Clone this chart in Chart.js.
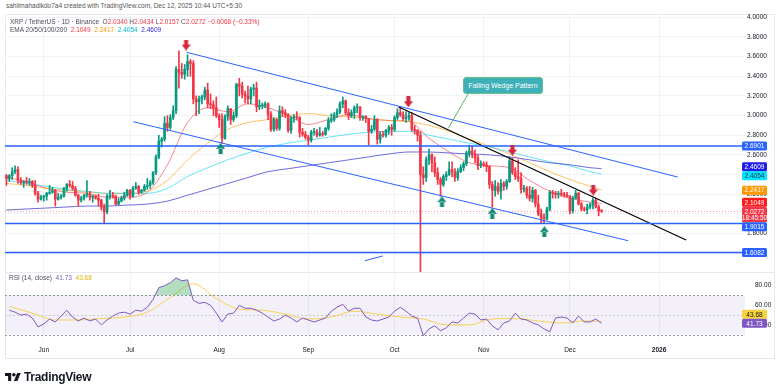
<!DOCTYPE html>
<html>
<head>
<meta charset="utf-8">
<script src="https://cdn.jsdelivr.net/npm/chart.js@4.4.1/dist/chart.umd.min.js"></script>
<style>
  body { margin: 0; background: #fff; font-family: 'Liberation Sans', Arial, sans-serif; }
  #wrap { position: relative; width: 780px; height: 388px; overflow: hidden; background: #fff; }
  #frame { position: absolute; left: 5px; top: 14px; width: 768px; height: 343px; border: 1px solid #e6e8ee; }
  #priceBox { position: absolute; left: 0; top: 13px; width: 780px; height: 259px; }
  #rsiBox { position: absolute; left: 0; top: 272px; width: 780px; height: 86px; }
  #sep { position: absolute; left: 5px; top: 272px; width: 769px; height: 1px; background: #e6e8ee; }
  .txt { position: absolute; white-space: nowrap; font-size: 6.5px; line-height: 8px; color: #4a4e59; }
  .r { color: #f23645; }
  #callout { position: absolute; left: 463px; top: 77px; width: 80px; height: 17px; background: #3fb0b8;
             border: 1px solid #66c28a; border-radius: 3px; box-sizing: border-box; color: #fff;
             font-size: 7px; line-height: 15px; text-align: center; }
  #logo { position: absolute; left: 5px; top: 370px; display: flex; align-items: center; gap: 3px;
          font-size: 12px; font-weight: bold; color: #131722; letter-spacing: -0.3px; }
</style>
</head>
<body>
<div id="wrap">
  <div id="frame"></div>
  <div id="priceBox"><canvas id="priceChart" width="780" height="259"></canvas></div>
  <div id="sep"></div>
  <div id="rsiBox"><canvas id="rsiChart" width="780" height="86"></canvas></div>

  <div class="txt" style="left:6px;top:2px;color:#555;">sahilmahadikdo7a4 created with TradingView.com, Dec 12, 2025 10:44 UTC+5:30</div>
  <div class="txt" style="left:10px;top:18px;">XRP / TetherUS · 1D · Binance&nbsp; O<span class="r">2.0340</span> H<span class="r">2.0434</span> L<span class="r">2.0157</span> C<span class="r">2.0272</span> <span class="r">−0.0068 (−0.33%)</span></div>
  <div class="txt" style="left:10px;top:26px;">EMA 20/50/100/200&nbsp; <span style="color:#f23645">2.1049</span>&nbsp; <span style="color:#ff9800">2.2417</span>&nbsp; <span style="color:#00bcd4">2.4054</span>&nbsp; <span style="color:#2a2ad8">2.4609</span></div>
  <div class="txt" style="left:9px;top:274px;">RSI (14, close)&nbsp; <span style="color:#7e57c2">41.73</span>&nbsp; <span style="color:#e0b400">43.68</span></div>
  <div id="callout">Falling Wedge Pattern</div>
  <div id="logo">
    <svg width="16" height="12" viewBox="0 0 36 26"><path d="M14 22H7V11H0V4h14v18zM28 22h-8l7.5-18h8L28 22z" fill="#131722"/><circle cx="20" cy="8" r="4" fill="#131722"/></svg>
    <span>TradingView</span>
  </div>
</div>

<script>
// XRP / TetherUS daily, 19 May 2025 -> 12 Dec 2025
// day numbers count from 1 Jun 2025 (= 0)

const firstDay = -13; // 19 May

// [open, high, low, close]
const mayCandles = [
  [2.39, 2.40, 2.29, 2.36], [2.36, 2.40, 2.33, 2.39], [2.39, 2.47, 2.35, 2.43], [2.43, 2.49, 2.41, 2.45],
  [2.45, 2.48, 2.31, 2.34], [2.34, 2.37, 2.30, 2.32], [2.32, 2.34, 2.27, 2.33], [2.33, 2.37, 2.30, 2.32],
  [2.32, 2.36, 2.29, 2.33], [2.33, 2.34, 2.27, 2.29], [2.29, 2.34, 2.19, 2.21], [2.21, 2.23, 2.12, 2.15],
  [2.15, 2.19, 2.14, 2.17]
];
const junCandles = [
  [2.17, 2.19, 2.13, 2.18], [2.18, 2.22, 2.14, 2.21], [2.21, 2.29, 2.20, 2.22], [2.22, 2.27, 2.21, 2.24],
  [2.24, 2.25, 2.08, 2.15], [2.15, 2.21, 2.14, 2.17], [2.17, 2.20, 2.15, 2.18], [2.18, 2.27, 2.17, 2.26],
  [2.26, 2.31, 2.23, 2.30], [2.30, 2.34, 2.27, 2.29], [2.29, 2.33, 2.24, 2.26], [2.26, 2.28, 2.18, 2.19],
  [2.19, 2.20, 2.08, 2.14], [2.14, 2.18, 2.12, 2.16], [2.16, 2.20, 2.14, 2.19], [2.19, 2.34, 2.17, 2.20],
  [2.20, 2.23, 2.14, 2.17], [2.17, 2.19, 2.12, 2.18], [2.18, 2.19, 2.15, 2.16], [2.16, 2.20, 2.08, 2.14],
  [2.14, 2.15, 2.04, 2.07], [2.07, 2.10, 1.91, 2.02], [2.02, 2.20, 2.00, 2.18], [2.18, 2.24, 2.15, 2.19],
  [2.19, 2.22, 2.16, 2.18], [2.18, 2.19, 2.09, 2.10], [2.10, 2.16, 2.09, 2.13], [2.13, 2.18, 2.12, 2.16],
  [2.16, 2.22, 2.14, 2.19], [2.19, 2.25, 2.18, 2.24]
];
const julCandles = [
  [2.24, 2.25, 2.15, 2.18], [2.18, 2.28, 2.17, 2.26], [2.26, 2.32, 2.25, 2.28], [2.28, 2.29, 2.20, 2.22],
  [2.22, 2.25, 2.21, 2.24], [2.24, 2.30, 2.23, 2.28], [2.28, 2.36, 2.25, 2.29], [2.29, 2.34, 2.26, 2.32],
  [2.32, 2.43, 2.30, 2.42], [2.42, 2.60, 2.40, 2.58], [2.58, 2.80, 2.56, 2.74], [2.74, 2.78, 2.68, 2.76],
  [2.76, 2.99, 2.74, 2.92], [2.92, 3.00, 2.84, 2.88], [2.88, 3.01, 2.86, 2.98], [2.98, 3.10, 2.96, 3.05],
  [3.05, 3.50, 3.02, 3.47], [3.47, 3.66, 3.28, 3.44], [3.44, 3.53, 3.38, 3.42], [3.42, 3.52, 3.37, 3.47],
  [3.47, 3.62, 3.40, 3.55], [3.55, 3.57, 3.40, 3.53], [3.53, 3.56, 3.12, 3.17], [3.17, 3.20, 3.00, 3.14],
  [3.14, 3.20, 3.02, 3.17], [3.17, 3.21, 3.12, 3.19], [3.19, 3.29, 3.16, 3.26], [3.26, 3.33, 3.08, 3.12],
  [3.12, 3.22, 3.07, 3.11], [3.11, 3.15, 3.00, 3.08], [3.08, 3.19, 2.98, 3.00]
];
const augCandles = [
  [3.00, 3.02, 2.88, 2.96], [2.96, 3.02, 2.72, 2.77], [2.77, 3.01, 2.76, 2.99], [2.99, 3.10, 2.95, 3.07],
  [3.07, 3.07, 2.91, 2.96], [2.96, 3.04, 2.94, 3.00], [3.00, 3.33, 2.98, 3.32], [3.32, 3.38, 3.20, 3.30],
  [3.30, 3.34, 3.18, 3.22], [3.22, 3.25, 3.13, 3.20], [3.20, 3.30, 3.12, 3.17], [3.17, 3.29, 3.12, 3.27],
  [3.27, 3.32, 3.20, 3.28], [3.28, 3.34, 3.04, 3.09], [3.09, 3.16, 3.06, 3.10], [3.10, 3.13, 3.07, 3.10],
  [3.10, 3.14, 3.08, 3.12], [3.12, 3.13, 2.96, 3.01], [3.01, 3.04, 2.84, 2.86], [2.86, 2.98, 2.84, 2.96],
  [2.96, 2.97, 2.85, 2.87], [2.87, 3.10, 2.85, 3.05], [3.05, 3.09, 2.99, 3.03], [3.03, 3.06, 2.98, 3.01],
  [3.01, 3.02, 2.83, 2.85], [2.85, 2.99, 2.82, 2.97], [2.97, 3.01, 2.93, 2.99], [2.99, 3.04, 2.96, 2.98],
  [2.98, 2.99, 2.78, 2.83], [2.83, 2.87, 2.79, 2.81], [2.81, 2.84, 2.76, 2.78]
];
const sepCandles = [
  [2.78, 2.80, 2.70, 2.75], [2.75, 2.85, 2.73, 2.83], [2.83, 2.87, 2.80, 2.84], [2.84, 2.86, 2.78, 2.80],
  [2.80, 2.88, 2.79, 2.82], [2.82, 2.84, 2.79, 2.81], [2.81, 2.88, 2.80, 2.87], [2.87, 2.98, 2.85, 2.95],
  [2.95, 3.02, 2.93, 2.96], [2.96, 3.03, 2.94, 3.01], [3.01, 3.07, 2.98, 3.04], [3.04, 3.14, 3.02, 3.12],
  [3.12, 3.19, 3.08, 3.15], [3.15, 3.16, 3.01, 3.03], [3.03, 3.07, 2.96, 3.00], [3.00, 3.06, 2.98, 3.03],
  [3.03, 3.10, 2.97, 3.08], [3.08, 3.12, 3.03, 3.09], [3.09, 3.09, 2.95, 2.98], [2.98, 3.00, 2.95, 2.99],
  [2.99, 3.00, 2.93, 2.97], [2.97, 2.97, 2.70, 2.84], [2.84, 2.90, 2.82, 2.86], [2.86, 3.00, 2.85, 2.96],
  [2.96, 2.97, 2.71, 2.76], [2.76, 2.84, 2.72, 2.81], [2.81, 2.84, 2.78, 2.80], [2.80, 2.86, 2.78, 2.85],
  [2.85, 2.90, 2.81, 2.88], [2.88, 2.91, 2.80, 2.86]
];
const octCandles = [
  [2.86, 3.00, 2.84, 2.98], [2.98, 3.07, 2.96, 3.03], [3.03, 3.09, 2.99, 3.01], [3.01, 3.04, 2.95, 2.97],
  [2.97, 3.04, 2.93, 2.98], [2.98, 3.03, 2.95, 3.00], [3.00, 3.03, 2.84, 2.86], [2.86, 2.90, 2.81, 2.85],
  [2.85, 2.86, 2.74, 2.80], [2.80, 2.84, 1.25, 2.40], [2.40, 2.48, 2.30, 2.37], [2.37, 2.58, 2.33, 2.55],
  [2.55, 2.66, 2.50, 2.60], [2.60, 2.61, 2.43, 2.52], [2.52, 2.58, 2.38, 2.42], [2.42, 2.47, 2.30, 2.35],
  [2.35, 2.37, 2.18, 2.30], [2.30, 2.40, 2.28, 2.38], [2.38, 2.43, 2.34, 2.40], [2.40, 2.53, 2.39, 2.45],
  [2.45, 2.53, 2.38, 2.43], [2.43, 2.46, 2.33, 2.37], [2.37, 2.46, 2.34, 2.43], [2.43, 2.50, 2.42, 2.47],
  [2.47, 2.53, 2.44, 2.51], [2.51, 2.64, 2.49, 2.62], [2.62, 2.70, 2.58, 2.64], [2.64, 2.69, 2.57, 2.61],
  [2.61, 2.65, 2.52, 2.57], [2.57, 2.60, 2.45, 2.49], [2.49, 2.54, 2.47, 2.51]
];
const novCandles = [
  [2.51, 2.53, 2.48, 2.50], [2.50, 2.53, 2.43, 2.48], [2.48, 2.49, 2.26, 2.30], [2.30, 2.33, 2.07, 2.24],
  [2.24, 2.34, 2.18, 2.28], [2.28, 2.32, 2.20, 2.23], [2.23, 2.35, 2.15, 2.31], [2.31, 2.33, 2.24, 2.28],
  [2.28, 2.35, 2.25, 2.33], [2.33, 2.58, 2.32, 2.54], [2.54, 2.57, 2.40, 2.42], [2.42, 2.47, 2.35, 2.38],
  [2.38, 2.55, 2.33, 2.36], [2.36, 2.42, 2.21, 2.25], [2.25, 2.29, 2.22, 2.26], [2.26, 2.28, 2.16, 2.19],
  [2.19, 2.28, 2.13, 2.16], [2.16, 2.27, 2.12, 2.24], [2.24, 2.25, 2.07, 2.10], [2.10, 2.19, 1.98, 2.00],
  [2.00, 2.05, 1.90, 1.96], [1.96, 2.00, 1.91, 1.95], [1.95, 2.07, 1.94, 2.05], [2.05, 2.24, 2.03, 2.22],
  [2.22, 2.24, 2.16, 2.21], [2.21, 2.23, 2.16, 2.20], [2.20, 2.23, 2.16, 2.21], [2.21, 2.25, 2.18, 2.20],
  [2.20, 2.22, 2.17, 2.19], [2.19, 2.22, 2.17, 2.18]
];
const decCandles = [
  [2.18, 2.19, 2.00, 2.03], [2.03, 2.18, 2.01, 2.16], [2.16, 2.24, 2.15, 2.21], [2.21, 2.22, 2.09, 2.10],
  [2.10, 2.12, 2.03, 2.05], [2.05, 2.07, 2.03, 2.04], [2.04, 2.10, 2.00, 2.07], [2.07, 2.11, 2.05, 2.09],
  [2.09, 2.16, 2.05, 2.14], [2.14, 2.16, 2.06, 2.07], [2.07, 2.09, 1.98, 2.03], [2.0340, 2.0434, 2.0157, 2.0272]
];

// EMA readings (weekly samples)
const emaDays = [-13, -6, 1, 8, 15, 22, 29, 36, 43, 50, 57, 64, 71, 78, 85, 92, 99, 106, 113, 120, 127, 134, 141, 148, 155, 162, 169, 176, 183, 190, 194];
const ema20  = [2.37, 2.33, 2.26, 2.22, 2.21, 2.17, 2.17, 2.22, 2.50, 2.93, 3.08, 3.04, 3.12, 3.08, 3.00, 2.91, 2.96, 3.01, 2.97, 2.95, 2.94, 2.77, 2.63, 2.52, 2.49, 2.47, 2.34, 2.23, 2.16, 2.12, 2.1049];
const ema50  = [2.31, 2.29, 2.26, 2.24, 2.22, 2.21, 2.21, 2.23, 2.34, 2.55, 2.72, 2.86, 2.93, 2.96, 3.00, 3.02, 3.00, 2.99, 2.97, 2.95, 2.94, 2.90, 2.84, 2.76, 2.69, 2.61, 2.52, 2.43, 2.35, 2.28, 2.2417];
const ema100 = [2.34, 2.31, 2.28, 2.25, 2.23, 2.21, 2.21, 2.21, 2.26, 2.38, 2.47, 2.55, 2.62, 2.68, 2.72, 2.75, 2.78, 2.81, 2.83, 2.84, 2.84, 2.80, 2.76, 2.72, 2.68, 2.63, 2.58, 2.53, 2.49, 2.43, 2.4054];
const ema200 = [2.04, 2.05, 2.06, 2.07, 2.08, 2.08, 2.09, 2.10, 2.13, 2.19, 2.25, 2.31, 2.37, 2.43, 2.46, 2.49, 2.52, 2.55, 2.58, 2.61, 2.63, 2.63, 2.62, 2.61, 2.60, 2.58, 2.55, 2.52, 2.50, 2.47, 2.4609];

// RSI(14) every second day from 20 May, and its moving average
const rsiStart = -12;
const rsiValues = [
  55, 53, 50, 51, 47, 38, 41, 46, 43, 49, 55, 48, 44, 47, 44, 46, 40, 45, 49, 52,
  53, 51, 55, 54, 58, 66, 78, 80, 83, 88, 85, 86, 65, 62, 63, 60, 52, 43, 51, 52,
  60, 57, 57, 55, 52, 48, 44, 46, 50, 47, 43, 47, 45, 43, 45, 47, 54, 58, 61, 54,
  57, 57, 48, 45, 44, 46, 48, 54, 58, 54, 49, 47, 29, 36, 39, 34, 37, 43, 42, 47,
  52, 51, 45, 46, 39, 35, 42, 44, 52, 46, 45, 42, 40, 36, 33, 47, 48, 47, 42, 49,
  43, 43, 46, 41.73
];
const rsiMaDays = [-12, -4, 4, 12, 20, 28, 36, 44, 52, 60, 68, 76, 84, 92, 100, 108, 116, 124, 132, 140, 148, 156, 164, 172, 180, 188, 194];
const rsiMa = [59, 52, 45, 45, 46.5, 48, 53, 68, 82, 67, 56, 55, 51, 46, 48, 54, 51, 48, 46, 40, 40, 46, 46.5, 44, 42, 44, 43.68];

// drawings: horizontal levels and trend lines [day, price, day, price]
const levels = [2.6901, 1.9015, 1.6082];
const upperChannel = [49.7, 3.644, 220.5, 2.375];
const lowerChannel = [31.1, 2.938, 203.3, 1.727];
const wedgeLine = [123.3, 3.091, 223.4, 1.734];
const smallLine = [111.7, 1.524, 117.9, 1.572];
const sellArrows = [[49.5, 3.718], [126.8, 3.141], [163.0, 2.649], [191.1, 2.243]];
const buyArrows = [[61.5, 2.667], [138.5, 2.124], [156.0, 2.006], [174.1, 1.819]];
const calloutTip = [140.7, 2.871];

// axes
const monthDays = [0, 30, 61, 92, 122, 153, 183, 214];
const monthLabels = ['Jun', 'Jul', 'Aug', 'Sep', 'Oct', 'Nov', 'Dec', '2026'];
const priceTicks = [1.6, 1.8, 2.0, 2.2, 2.4, 2.6, 2.8, 3.0, 3.2, 3.4, 3.6, 3.8, 4.0];
const rsiTicks = [40, 60, 80];

// axis tags; the pinned one keeps its place, the others move out of its way
const priceTags = [
  { value: 2.6901, bg: '#2962ff', fg: '#fff' },
  { value: 2.4609, bg: '#1e1ee6', fg: '#fff' },
  { value: 2.4054, bg: '#00e5ff', fg: '#1a2a40' },
  { value: 2.2417, bg: '#ff9800', fg: '#fff' },
  { value: 2.1049, bg: '#ff1a1a', fg: '#fff' },
  { value: 2.0272, bg: '#f23645', fg: '#fff', sub: '18:45:50', pinned: true },
  { value: 1.9015, bg: '#2962ff', fg: '#fff' },
  { value: 1.6082, bg: '#2962ff', fg: '#fff' }
];
const rsiTags = [
  { value: 43.68, bg: '#f9d23c', fg: '#131722', text: '43.68' },
  { value: 41.73, bg: '#7e57c2', fg: '#fff', text: '41.73', pinned: true }
];

const UP = '#089981';
const DOWN = '#f23645';
const FONT = "'Liberation Sans', Arial, sans-serif";
const xMin = -13.5;
const xMax = 243.9;

const allCandles = [].concat(mayCandles, junCandles, julCandles, augCandles, sepCandles, octCandles, novCandles, decCandles);
const candleColors = allCandles.map(c => c[3] >= c[0] ? UP : DOWN);

function pts(days, vals) {
    return vals.map((v, i) => ({ x: days[i], y: v }));
}

function segment(s) {
    return [{ x: s[0], y: s[1] }, { x: s[2], y: s[3] }];
}

function lineSet(data, color, width, extra) {
    return Object.assign({
        type: 'line', data: data, borderColor: color, borderWidth: width,
        pointRadius: 0, fill: false, tension: 0
    }, extra || {});
}

function arrowImage(color, down) {
    const c = document.createElement('canvas');
    c.width = 9; c.height = 11;
    const g = c.getContext('2d');
    g.fillStyle = color;
    g.beginPath();
    if (down) {
        g.rect(2.5, 0, 4, 5.5);
        g.moveTo(0, 5); g.lineTo(9, 5); g.lineTo(4.5, 11);
    } else {
        g.rect(2.5, 5.5, 4, 5.5);
        g.moveTo(0, 6); g.lineTo(9, 6); g.lineTo(4.5, 0);
    }
    g.fill();
    return c;
}

function monthAxisTicks(scale) {
    scale.ticks = monthDays.map(v => ({ value: v }));
}

function drawTags(chart, tags, fmt) {
    const { ctx, chartArea, scales } = chart;
    const items = tags.map(t => ({
        t: t,
        y: scales.y.getPixelForValue(t.value),
        top: -4.5,
        bottom: t.sub ? 11 : 4.5
    }));
    for (let k = 0; k < 30; k++) {
        items.sort((a, b) => a.y - b.y);
        for (let i = 1; i < items.length; i++) {
            const p = items[i - 1], c = items[i];
            const ov = (p.y + p.bottom) - (c.y + c.top);
            if (ov > 0.01) {
                if (p.t.pinned) c.y += ov;
                else if (c.t.pinned) p.y -= ov;
                else { p.y -= ov / 2; c.y += ov / 2; }
            }
        }
    }
    ctx.save();
    ctx.font = '6.5px ' + FONT;
    ctx.textAlign = 'center';
    ctx.textBaseline = 'middle';
    const x0 = chartArea.right - 3;
    items.forEach(it => {
        ctx.fillStyle = it.t.bg;
        ctx.beginPath();
        ctx.roundRect(x0, it.y + it.top, 25, it.bottom - it.top, 1.5);
        ctx.fill();
        ctx.fillStyle = it.t.fg;
        ctx.fillText(it.t.text || fmt(it.t.value), x0 + 12.5, it.y + 0.5);
        if (it.t.sub) ctx.fillText(it.t.sub, x0 + 12.5, it.y + 7);
    });
    ctx.restore();
}

const sellImg = arrowImage('#d7263d', true);
const buyImg = arrowImage('#0e8a75', false);

const priceExtras = {
    id: 'priceExtras',
    afterDatasetsDraw(chart) {
        // callout tail
        const { ctx, scales } = chart;
        const tx = scales.x.getPixelForValue(calloutTip[0]);
        const ty = scales.y.getPixelForValue(calloutTip[1]);
        ctx.save();
        ctx.strokeStyle = '#5cb85c';
        ctx.lineWidth = 1;
        ctx.beginPath();
        ctx.moveTo(tx, ty);
        ctx.lineTo(468, 81);
        ctx.stroke();
        ctx.restore();
    },
    afterDraw(chart) {
        drawTags(chart, priceTags, v => v.toFixed(4));
    }
};

const rsiExtras = {
    id: 'rsiExtras',
    beforeDatasetsDraw(chart) {
        const { ctx, chartArea: a, scales: { y } } = chart;
        const y70 = y.getPixelForValue(70), y30 = y.getPixelForValue(30), y50 = y.getPixelForValue(50);
        ctx.save();
        ctx.fillStyle = 'rgba(126, 87, 194, 0.09)';
        ctx.fillRect(a.left, y70, a.right - a.left, y30 - y70);
        ctx.setLineDash([2, 2]);
        ctx.lineWidth = 1;
        ctx.strokeStyle = '#9598a1';
        [y70, y30].forEach(yy => {
            ctx.beginPath(); ctx.moveTo(a.left, Math.round(yy) + 0.5); ctx.lineTo(a.right, Math.round(yy) + 0.5); ctx.stroke();
        });
        ctx.strokeStyle = 'rgba(149, 152, 161, 0.45)';
        ctx.beginPath(); ctx.moveTo(a.left, Math.round(y50) + 0.5); ctx.lineTo(a.right, Math.round(y50) + 0.5); ctx.stroke();
        ctx.restore();
    },
    afterDraw(chart) {
        drawTags(chart, rsiTags, v => v.toFixed(2));
    }
};

new Chart(document.getElementById('priceChart'), {
    type: 'bar',
    data: {
        datasets: [
            lineSet(pts(emaDays, ema200), 'rgba(60, 60, 210, 0.75)', 1, { cubicInterpolationMode: 'monotone', order: 9 }),
            lineSet(pts(emaDays, ema100), 'rgba(0, 210, 240, 0.6)', 1, { cubicInterpolationMode: 'monotone', order: 9 }),
            lineSet(pts(emaDays, ema50), 'rgba(255, 152, 0, 0.6)', 1, { cubicInterpolationMode: 'monotone', order: 9 }),
            lineSet(pts(emaDays, ema20), 'rgba(242, 54, 69, 0.6)', 1, { cubicInterpolationMode: 'monotone', order: 9 }),
            {
                type: 'bar', order: 8, grouped: false, barThickness: 1,
                data: allCandles.map((c, i) => ({ x: firstDay + i, y: [c[2], c[1]] })),
                backgroundColor: candleColors
            },
            {
                type: 'bar', order: 7, grouped: false, barThickness: 2, minBarLength: 1,
                data: allCandles.map((c, i) => ({ x: firstDay + i, y: [c[0], c[3]] })),
                backgroundColor: candleColors
            },
            lineSet([{ x: xMin, y: 2.0272 }, { x: xMax, y: 2.0272 }], 'rgba(242, 54, 69, 0.55)', 1, { borderDash: [1, 2], order: 6 }),
            ...levels.map(p => lineSet([{ x: xMin, y: p }, { x: xMax, y: p }], '#2962ff', 1.5, { order: 5 })),
            lineSet(segment(upperChannel), '#2962ff', 1, { order: 5 }),
            lineSet(segment(lowerChannel), '#2962ff', 1, { order: 5 }),
            lineSet(segment(smallLine), '#2962ff', 1, { order: 5 }),
            lineSet(segment(wedgeLine), '#000000', 1.2, { order: 5 }),
            {
                type: 'line', showLine: false, order: 1,
                data: sellArrows.map(a => ({ x: a[0], y: a[1] })),
                pointStyle: sellImg, pointRadius: 5
            },
            {
                type: 'line', showLine: false, order: 1,
                data: buyArrows.map(a => ({ x: a[0], y: a[1] })),
                pointStyle: buyImg, pointRadius: 5
            }
        ]
    },
    options: {
        responsive: false,
        animation: false,
        devicePixelRatio: 1,
        layout: { autoPadding: false, padding: { left: 5, right: 0, top: 0, bottom: 0 } },
        plugins: { legend: { display: false }, tooltip: { enabled: false } },
        scales: {
            x: {
                type: 'linear', min: xMin, max: xMax, offset: false,
                grid: { color: '#f1f2f5', drawTicks: false, offset: false },
                border: { display: false },
                ticks: { display: false },
                afterBuildTicks: monthAxisTicks,
                afterFit: s => { s.height = 0; s.paddingLeft = 0; s.paddingRight = 0; }
            },
            y: {
                position: 'right', min: 1.409, max: 4.044,
                grid: { color: '#f1f2f5', drawTicks: false },
                border: { display: false },
                ticks: { padding: 2, color: '#131722', font: { size: 6.5, family: FONT }, callback: v => v.toFixed(4) },
                afterBuildTicks: s => { s.ticks = priceTicks.map(v => ({ value: v })); },
                afterFit: s => { s.width = 35; s.paddingTop = 0; s.paddingBottom = 0; }
            }
        }
    },
    plugins: [priceExtras]
});

new Chart(document.getElementById('rsiChart'), {
    type: 'line',
    data: {
        datasets: [
            {
                data: rsiValues.map((v, i) => ({ x: rsiStart + i * 2, y: v })),
                borderColor: '#7e57c2', borderWidth: 1, pointRadius: 0, tension: 0,
                fill: { target: { value: 70 }, above: 'rgba(56, 170, 90, 0.38)', below: 'rgba(0,0,0,0)' }
            },
            {
                data: pts(rsiMaDays, rsiMa),
                borderColor: 'rgba(247, 205, 70, 0.9)', borderWidth: 1, pointRadius: 0,
                cubicInterpolationMode: 'monotone', fill: false
            }
        ]
    },
    options: {
        responsive: false,
        animation: false,
        devicePixelRatio: 1,
        layout: { autoPadding: false, padding: { left: 5, right: 0, top: 0, bottom: 0 } },
        plugins: { legend: { display: false }, tooltip: { enabled: false } },
        scales: {
            x: {
                type: 'linear', min: xMin, max: xMax, offset: false,
                grid: { color: '#f1f2f5', drawTicks: false },
                border: { display: false },
                ticks: {
                    padding: 4, color: '#131722', maxRotation: 0, autoSkip: false,
                    font: ctx => ({ size: 6.5, family: FONT, weight: ctx.tick && ctx.tick.value === 214 ? 'bold' : 'normal' }),
                    callback: v => monthLabels[monthDays.indexOf(v)]
                },
                afterBuildTicks: monthAxisTicks,
                afterFit: s => { s.height = 16; s.paddingLeft = 0; s.paddingRight = 0; }
            },
            y: {
                position: 'right', min: 22.55, max: 93.98,
                grid: { display: false },
                border: { display: false },
                ticks: { padding: 2, color: '#131722', font: { size: 6.5, family: FONT }, callback: v => v.toFixed(2) },
                afterBuildTicks: s => { s.ticks = rsiTicks.map(v => ({ value: v })); },
                afterFit: s => { s.width = 35; s.paddingTop = 0; s.paddingBottom = 0; }
            }
        }
    },
    plugins: [rsiExtras]
});
</script>
</body>
</html>
